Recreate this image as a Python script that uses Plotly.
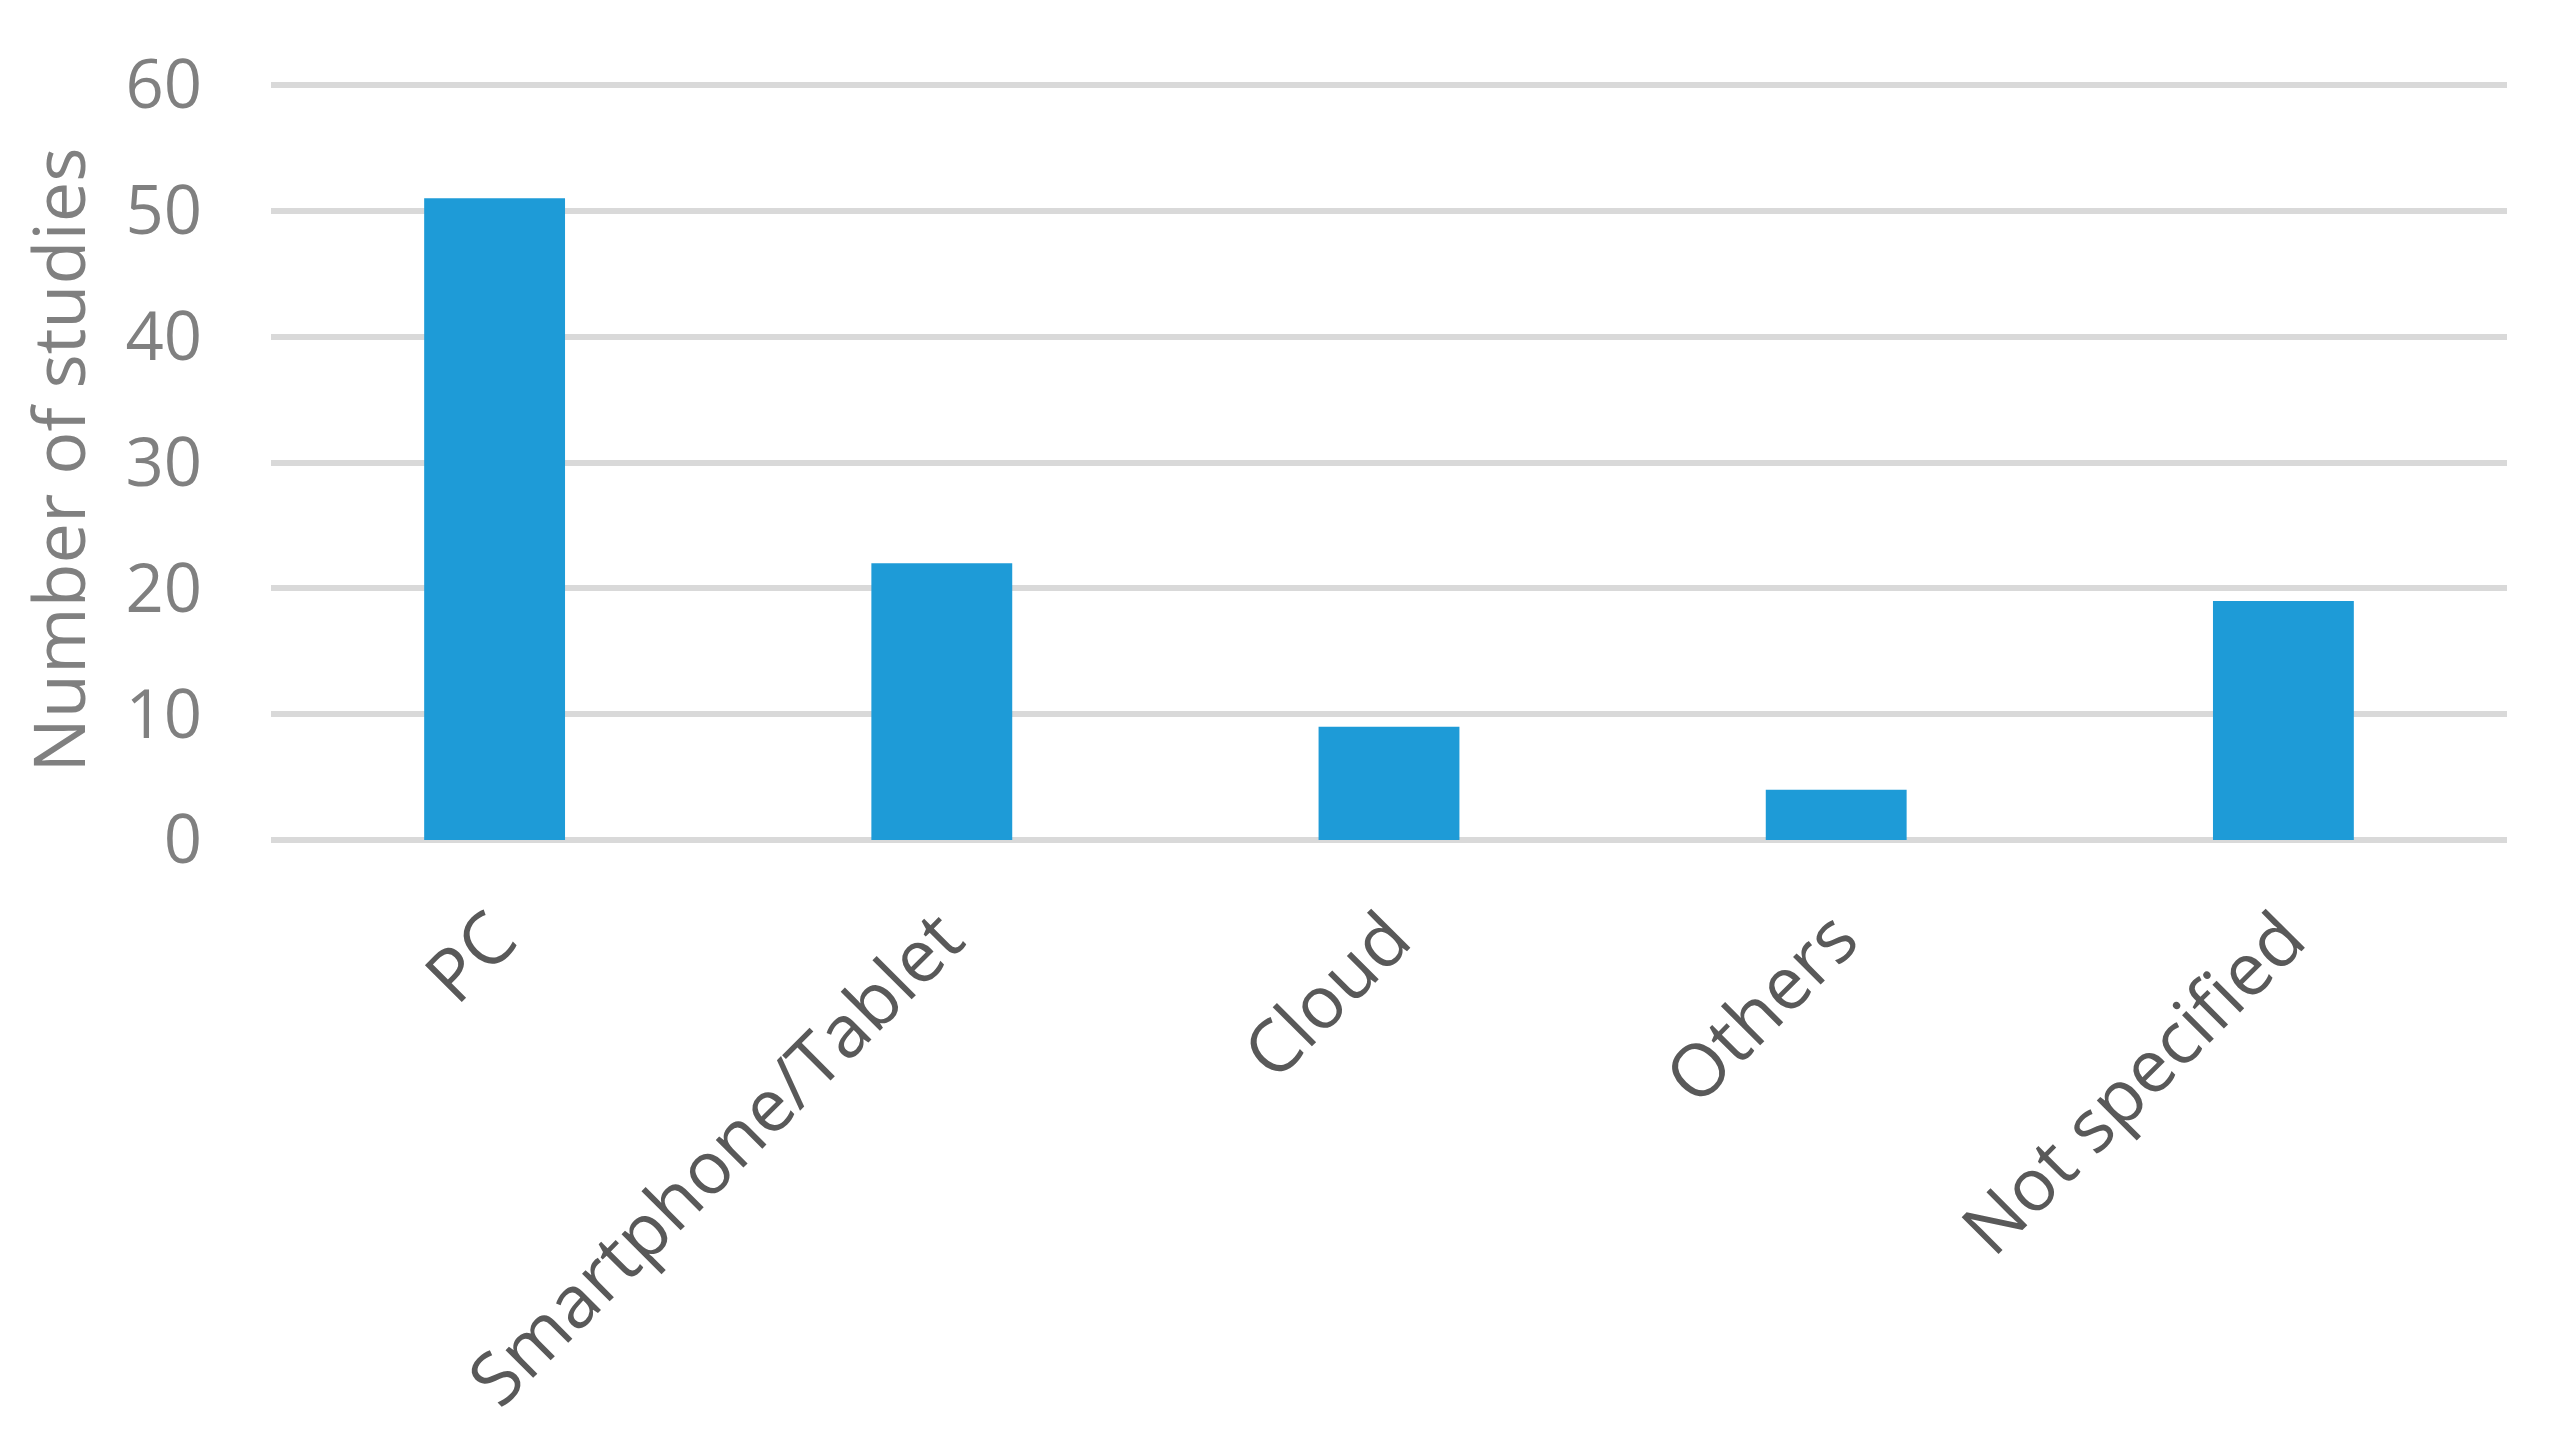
import plotly.graph_objects as go

categories = ["PC", "Smartphone/Tablet", "Cloud", "Others", "Not specified"]
values = [51, 22, 9, 4, 19]
y_ticks = [0, 10, 20, 30, 40, 50, 60]

FONT = "Open Sans"

fig = go.Figure(
    go.Bar(
        x=categories,
        y=values,
        marker=dict(color="#1E9BD7", line=dict(width=0)),
        width=0.315,
    )
)

fig.update_layout(
    width=2541,
    height=1433,
    margin=dict(l=263, r=42, t=72, b=601),
    paper_bgcolor="white",
    plot_bgcolor="white",
    showlegend=False,
    font=dict(family=FONT),
)

fig.update_yaxes(
    range=[0, 60.4],
    tickvals=y_ticks,
    automargin=False,
    showgrid=True,
    gridcolor="#D9D9D9",
    gridwidth=6,
    zeroline=True,
    zerolinecolor="#D9D9D9",
    zerolinewidth=6,
    showline=False,
    ticks="",
    tickfont=dict(family=FONT, size=67, color="#808080"),
    ticklabelstandoff=68,
    title=dict(text="Number of studies", font=dict(family=FONT, size=72, color="#808080"), standoff=30),
)

fig.update_xaxes(
    tickangle=-45,
    automargin=False,
    showgrid=False,
    showline=False,
    ticks="",
    tickfont=dict(family=FONT, size=73, color="#595959"),
    ticklabelstandoff=40,
)

fig.write_html("out.html")
